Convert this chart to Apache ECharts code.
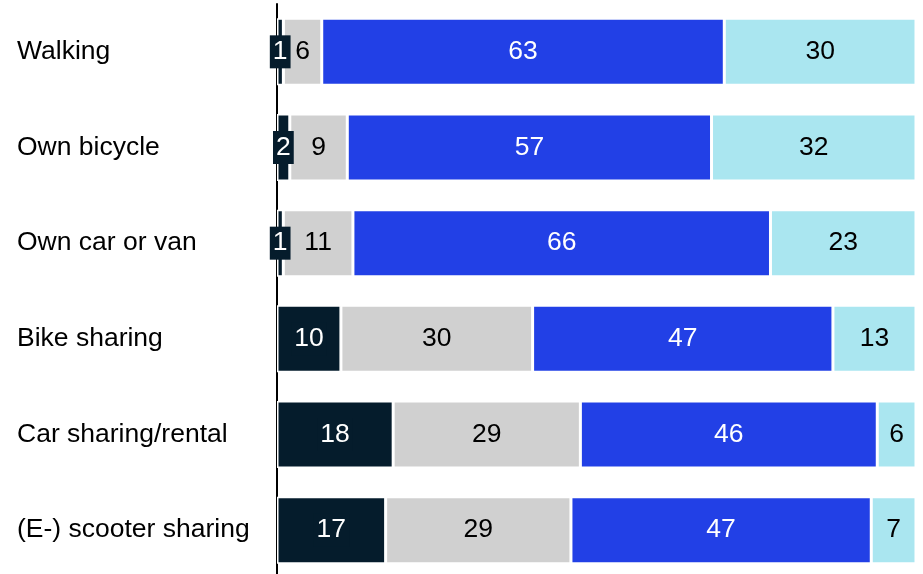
<!DOCTYPE html>
<html>
<head>
<meta charset="utf-8">
<script src="https://cdn.jsdelivr.net/npm/echarts@6/dist/echarts.min.js"></script>
<style>html,body{margin:0;padding:0;background:#fff;overflow:hidden}#c{width:923px;height:580px}</style>
</head>
<body>
<div id="c"></div>
<script>
const categories = ['Walking', 'Own bicycle', 'Own car or van', 'Bike sharing', 'Car sharing/rental', '(E-) scooter sharing'];
const seriesA = [1, 2, 1, 10, 18, 17];
const seriesB = [6, 9, 11, 30, 29, 29];
const seriesC = [63, 57, 66, 47, 46, 47];
const seriesD = [30, 32, 23, 13, 6, 7];

const raw = [seriesA, seriesB, seriesC, seriesD];
const totals = categories.map((_, i) => raw.reduce((s, arr) => s + arr[i], 0));
const colors = ['#051C2C', '#D0D0D0', '#2240E6', '#AAE6F0'];
const textColors = ['#fff', '#000', '#fff', '#000'];
const FONT = 'Liberation Sans, Arial, sans-serif';
const FS = 26.5;

const series = raw.map((arr, k) => ({
  type: 'bar',
  stack: 'total',
  barWidth: 67,
  z: 2,
  data: arr.map((v, i) => ({ value: v / totals[i] * 100, raw: v })),
  itemStyle: { color: colors[k], borderColor: '#fff', borderWidth: 1.5 },
  label: {
    show: true,
    position: 'inside',
    color: textColors[k],
    fontFamily: FONT,
    fontSize: FS,
    formatter: p => String(p.data.raw),
    backgroundColor: k === 0 ? '#051C2C' : 'transparent',
    padding: k === 0 ? [3, 3] : 0
  }
}));

const chart = echarts.init(document.getElementById('c'), null, { renderer: 'canvas' });
chart.setOption({
  animation: false,
  grid: { left: 277, right: 7, top: 4, bottom: 2, containLabel: false },
  xAxis: { type: 'value', min: 0, max: 100, show: false },
  yAxis: {
    type: 'category',
    data: categories,
    inverse: true,
    axisLine: { show: true, lineStyle: { color: '#000', width: 2 } },
    axisTick: { show: false },
    axisLabel: { align: 'left', margin: 260, color: '#000', fontFamily: FONT, fontSize: FS },
    z: 1
  },
  series: series
});
</script>
</body>
</html>
